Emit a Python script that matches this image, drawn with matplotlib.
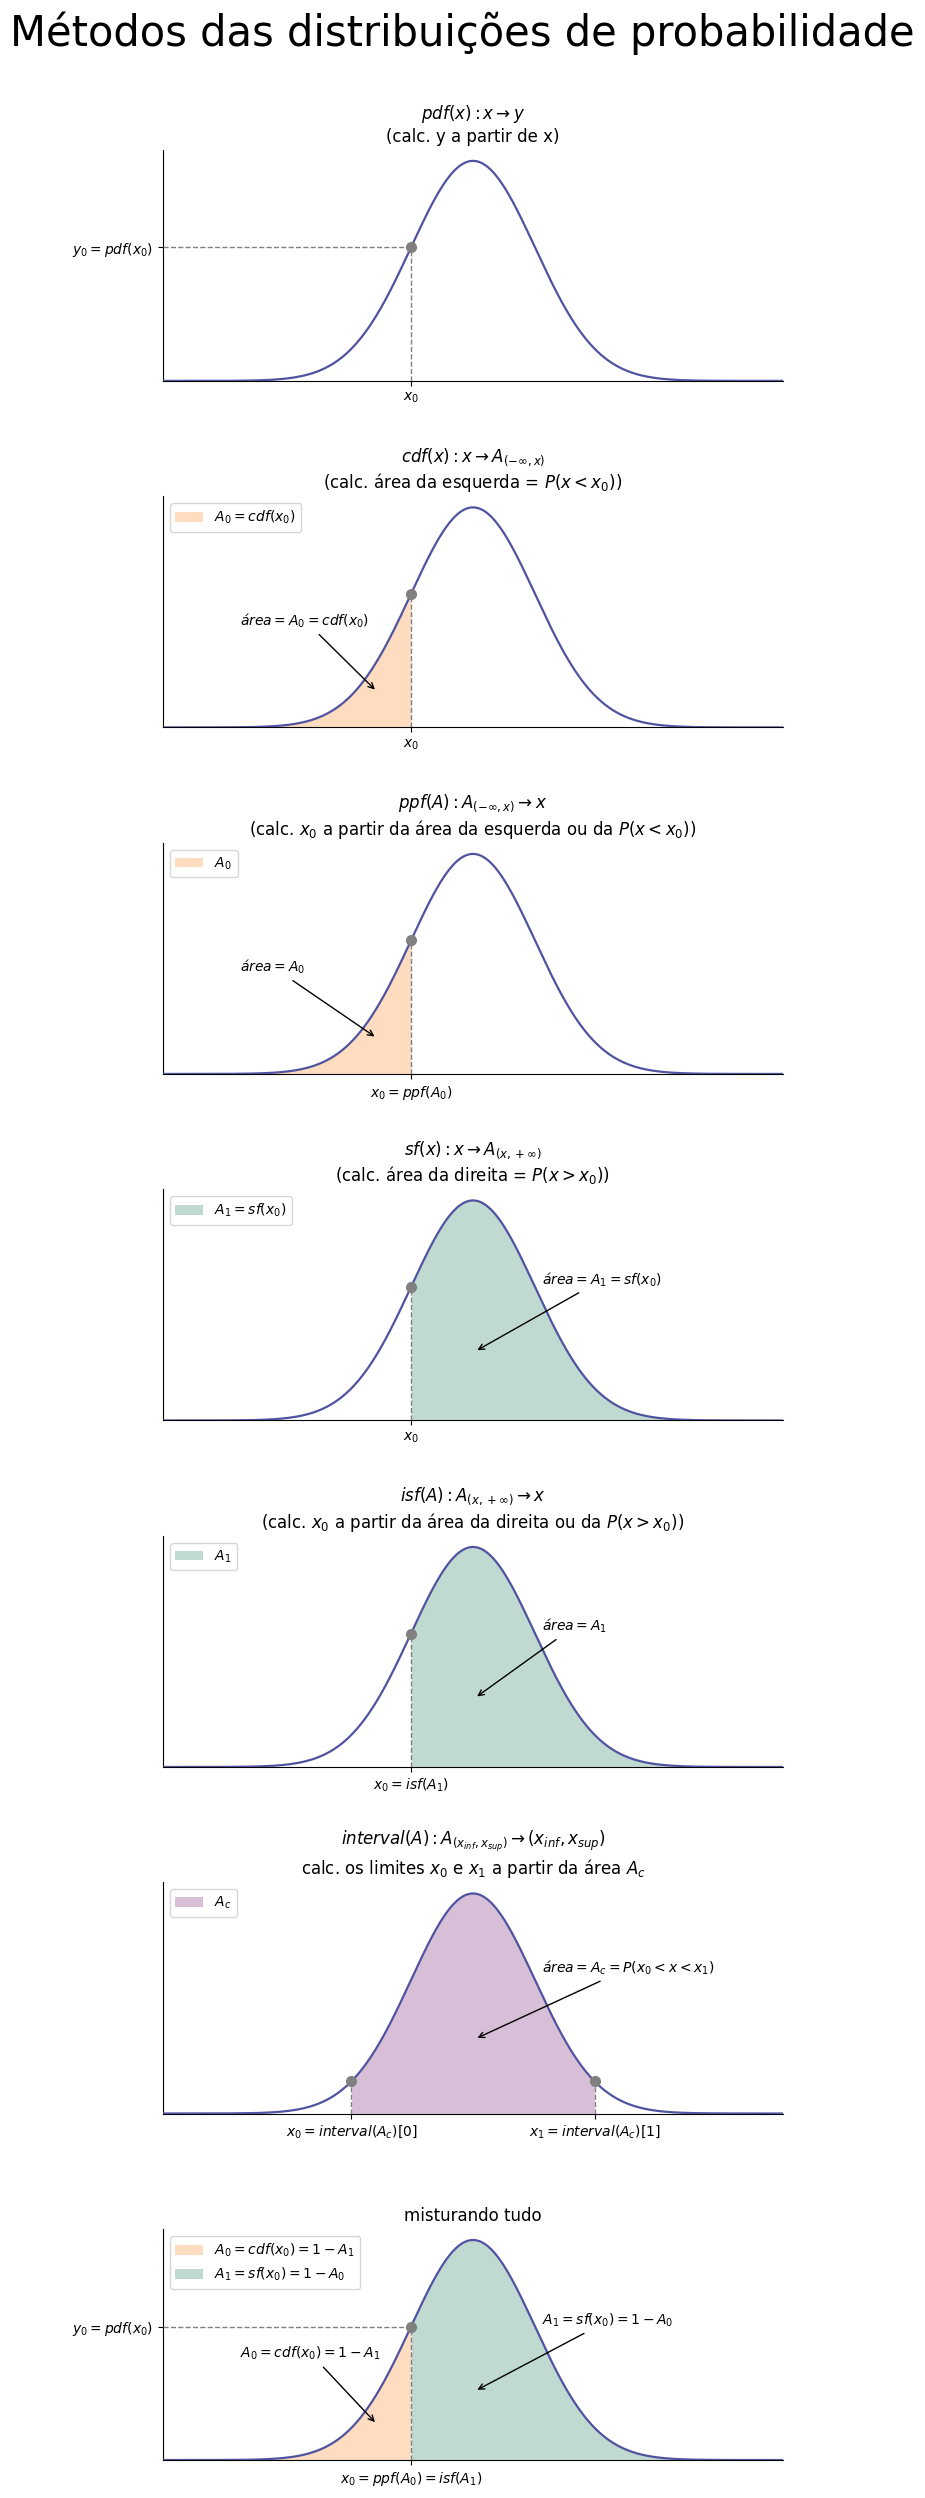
import numpy as np
import matplotlib
matplotlib.use("Agg")
import matplotlib.pyplot as plt

# distribuição normal padrão usada em todos os painéis
MU = 0.0
SIGMA = 1.0
X_RANGE = [-5.0, 5.0]
X0 = -1.0
INTERVAL = [-1.96, 1.96]  # interval(0.95)

LINE_COLOR = "#5053a0"
LEFT_FILL = "#fedcc0"
RIGHT_FILL = "#c0dad2"
MID_FILL = "#d8bfd8"

TITLES = [
    "$pdf(x): x \\rightarrow y$\n(calc. y a partir de x)",
    "$cdf(x): x \\rightarrow A_{(-\\infty, x)}$\n(calc. área da esquerda = $P(x < x_0)$)",
    "$ppf(A): A_{(-\\infty, x)} \\rightarrow x$\n(calc. $x_0$ a partir da área da esquerda ou da $P(x < x_0)$)",
    "$sf(x): x \\rightarrow A_{(x, +\\infty)}$\n(calc. área da direita = $P(x > x_0)$)",
    "$isf(A): A_{(x, +\\infty)} \\rightarrow x$\n(calc. $x_0$ a partir da área da direita ou da $P(x > x_0)$)",
    "$interval(A): A_{(x_{inf}, x_{sup})} \\rightarrow (x_{inf}, x_{sup})$\ncalc. os limites $x_0$ e $x_1$ a partir da área $A_c$",
    "misturando tudo",
]

LEFT_TXT = (-3.75, 0.185)
LEFT_HEAD = (-1.55, 0.065)
RIGHT_TXT = (1.12, 0.247)
RIGHT_HEAD = (0.03, 0.125)


def pdf(x):
    return np.exp(-0.5 * ((x - MU) / SIGMA) ** 2) / (SIGMA * np.sqrt(2 * np.pi))


x = np.linspace(X_RANGE[0], X_RANGE[1], 1000)
y = pdf(x)
y0 = pdf(X0)

fig, axes = plt.subplots(7, 1, figsize=(9.25, 24.98), dpi=100)
fig.subplots_adjust(left=0.1762, right=0.8465, top=0.94, bottom=0.0152, hspace=0.5)
fig.text(0.5, 0.9955, "Métodos das distribuições de probabilidade",
         ha="center", va="top", fontsize=30)


def base(ax, title):
    ax.plot(x, y, color=LINE_COLOR, lw=1.6, zorder=3)
    ax.set_xlim(X_RANGE)
    ax.set_ylim(0, y.max() * 1.05)
    ax.spines["top"].set_visible(False)
    ax.spines["right"].set_visible(False)
    ax.set_title(title, fontsize=12)
    ax.set_yticks([])


def point(ax, xp, horiz=False):
    yp = pdf(xp)
    ax.plot([xp], [yp], "o", color="gray", ms=7, zorder=5)
    ax.plot([xp, xp], [0, yp], "--", color="gray", lw=1, zorder=4)
    if horiz:
        ax.plot([X_RANGE[0], xp], [yp, yp], "--", color="gray", lw=1, zorder=4)


def note(ax, text, xy, xytext):
    ax.annotate(text, xy=xy, xytext=xytext, fontsize=10,
                arrowprops=dict(arrowstyle="->", color="black", lw=1))


left = x <= X0
right = x >= X0
mid = (x >= INTERVAL[0]) & (x <= INTERVAL[1])

# pdf
ax = axes[0]
base(ax, TITLES[0])
point(ax, X0, horiz=True)
ax.set_xticks([X0], ["$x_0$"])
ax.set_yticks([y0], ["$y_0 = pdf(x_0)$"])

# cdf
ax = axes[1]
base(ax, TITLES[1])
ax.fill_between(x[left], y[left], color=LEFT_FILL, lw=0, label="$A_0 = cdf(x_0)$")
point(ax, X0)
ax.set_xticks([X0], ["$x_0$"])
note(ax, "$área = A_0 = cdf(x_0)$", LEFT_HEAD, LEFT_TXT)
ax.legend(loc="upper left")

# ppf
ax = axes[2]
base(ax, TITLES[2])
ax.fill_between(x[left], y[left], color=LEFT_FILL, lw=0, label="$A_0$")
point(ax, X0)
ax.set_xticks([X0], ["$x_0 = ppf(A_0)$"])
note(ax, "$área = A_0$", LEFT_HEAD, LEFT_TXT)
ax.legend(loc="upper left")

# sf
ax = axes[3]
base(ax, TITLES[3])
ax.fill_between(x[right], y[right], color=RIGHT_FILL, lw=0, label="$A_1 = sf(x_0)$")
point(ax, X0)
ax.set_xticks([X0], ["$x_0$"])
note(ax, "$área = A_1 = sf(x_0)$", RIGHT_HEAD, RIGHT_TXT)
ax.legend(loc="upper left")

# isf
ax = axes[4]
base(ax, TITLES[4])
ax.fill_between(x[right], y[right], color=RIGHT_FILL, lw=0, label="$A_1$")
point(ax, X0)
ax.set_xticks([X0], ["$x_0 = isf(A_1)$"])
note(ax, "$área = A_1$", RIGHT_HEAD, RIGHT_TXT)
ax.legend(loc="upper left")

# interval
ax = axes[5]
base(ax, TITLES[5])
ax.fill_between(x[mid], y[mid], color=MID_FILL, lw=0, label="$A_c$")
point(ax, INTERVAL[0])
point(ax, INTERVAL[1])
ax.set_xticks(INTERVAL, ["$x_0 = interval(A_c)[0]$", "$x_1 = interval(A_c)[1]$"])
note(ax, "$área = A_c = P(x_0 < x < x_1)$", (RIGHT_HEAD[0], 0.135), (RIGHT_TXT[0], 0.255))
ax.legend(loc="upper left")

# tudo
ax = axes[6]
base(ax, TITLES[6])
ax.fill_between(x[left], y[left], color=LEFT_FILL, lw=0, label="$A_0 = cdf(x_0) = 1 - A_1$")
ax.fill_between(x[right], y[right], color=RIGHT_FILL, lw=0, label="$A_1 = sf(x_0) = 1 - A_0$")
point(ax, X0, horiz=True)
ax.set_xticks([X0], ["$x_0 = ppf(A_0) = isf(A_1)$"])
ax.set_yticks([y0], ["$y_0 = pdf(x_0)$"])
note(ax, "$A_0 = cdf(x_0) = 1 - A_1$", LEFT_HEAD, LEFT_TXT)
note(ax, "$A_1 = sf(x_0) = 1 - A_0$", RIGHT_HEAD, (RIGHT_TXT[0], 0.245))
ax.legend(loc="upper left")

fig.savefig("out.png", dpi=100)
